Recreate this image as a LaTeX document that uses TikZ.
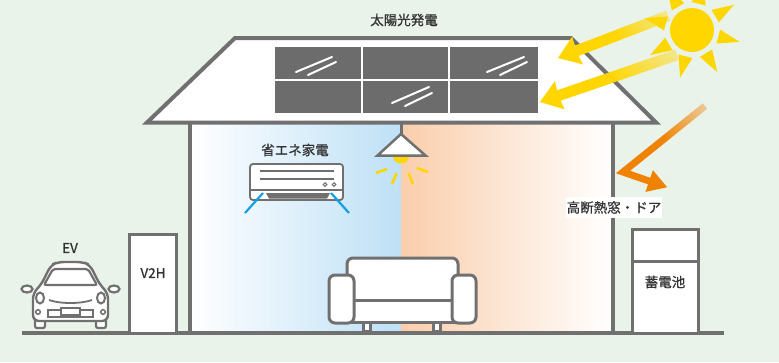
\documentclass[tikz,border=0pt]{standalone}
\usepackage{fontspec}
\setmainfont{Noto Sans CJK JP}
\newfontfamily\labelfont{Noto Sans CJK JP}[FakeBold=0.8]
\usetikzlibrary{fadings}

\definecolor{bg}{RGB}{234,243,234}
\definecolor{wallgray}{RGB}{112,112,112}
\definecolor{panelgray}{RGB}{108,108,108}
\definecolor{sky}{RGB}{190,224,246}
\definecolor{peach}{RGB}{250,206,172}
\definecolor{sunY}{RGB}{255,214,0}
\definecolor{heat}{RGB}{239,130,0}
\definecolor{cool}{RGB}{20,160,230}
\definecolor{ink}{RGB}{50,50,50}

% opaque on the left half, fading out over the right half
\begin{tikzfadingfrompicture}[name=sunfade]
  \fill[transparent!0] (-200bp,-200bp) rectangle (0bp,200bp);
  \shade[left color=transparent!0, right color=transparent!100] (0bp,-200bp) rectangle (50bp,200bp);
  \fill[transparent!100] (50bp,-200bp) rectangle (200bp,200bp);
\end{tikzfadingfrompicture}

\begin{document}
\begin{tikzpicture}[x=1pt, y=1pt,
  outline/.style={draw=wallgray, line width=3pt, fill=white},
  thin outline/.style={draw=wallgray, line width=2.2pt, fill=white},
  label/.style={text=ink, font=\labelfont\fontsize{13.5}{16}\selectfont, inner sep=1pt},
  ray/.style={sunY, line width=2.6pt},
  panel streak/.style={white, line width=2pt, line cap=round}]

% canvas
\fill[bg] (0,0) rectangle (779,-362);
\useasboundingbox (0,0) rectangle (779,-362);

% room interior: cool side and warm side
\shade[left color=white, right color=sky] (190,-122) rectangle (401,-333);
\shade[left color=peach, right color=white] (401,-122) rectangle (613,-333);

% roof
\draw[wallgray, line width=4pt, fill=white, line join=miter]
  (147,-122.5) -- (235,-38) -- (571,-38) -- (656,-122.5) -- cycle;

% walls
\draw[wallgray, line width=4pt] (190,-123) -- (190,-333);
\draw[wallgray, line width=4pt] (613,-123) -- (613,-333);

% solar panels
\fill[panelgray] (275,-47) rectangle (538,-113);
\draw[white, line width=2pt] (362,-47) -- (362,-113) (449,-47) -- (449,-113) (275,-80) -- (538,-80);
\draw[panel streak] (296,-72) -- (332,-57) (308,-75) -- (336,-62);
\draw[panel streak] (487,-72) -- (524,-57) (500,-75) -- (527,-62);
\draw[panel streak] (392,-103) -- (429,-87) (405,-106) -- (432,-93);

% ceiling lamp
\draw[wallgray, line width=3pt] (401,-124) -- (401,-136);
\fill[sunY] (392.5,-155) arc (180:360:8.5) -- cycle;
\draw[wallgray, line width=2.5pt, fill=white, line join=miter]
  (401,-134) -- (425.5,-155.5) -- (377.5,-155.5) -- cycle;
\draw[ray] (376,-173) -- (387,-169);
\draw[ray] (392,-184) -- (396.5,-173);
\draw[ray] (413,-184) -- (408.5,-173);
\draw[ray] (428,-172) -- (417,-168);

% air conditioner
\draw[wallgray, line width=1.8pt, fill=white, rounded corners=3pt] (250,-164) rectangle (343,-200);
\draw[wallgray, line width=1.5pt] (260,-171) -- (334,-171) (260,-179) -- (334,-179) (251,-190) -- (342,-190);
\draw[wallgray, line width=1pt] (325,-184.5) circle (1.8) (334,-184.5) circle (1.8);
\fill[wallgray] (266,-193) -- (330,-193) -- (327,-198.5) -- (269,-198.5) -- cycle;
\draw[cool, line width=2.2pt] (263,-193) -- (245,-213);
\draw[cool, line width=2.2pt] (331,-193) -- (349,-213);

% sofa
\draw[outline] (363,-318) rectangle (370,-331);
\draw[outline] (433,-318) rectangle (440,-331);
\draw[outline, rounded corners=6pt] (347,-258) rectangle (458,-305);
\draw[outline] (350,-300) rectangle (456,-322);
\draw[outline, rounded corners=6pt] (329,-275) rectangle (354,-323);
\draw[outline, rounded corners=6pt] (452,-275) rectangle (476,-323);

% ground
\draw[wallgray, line width=4.5pt] (22,-333) -- (724,-333);

% electric car
\draw[thin outline, rounded corners=2pt] (35,-314) rectangle (45,-328);
\draw[thin outline, rounded corners=2pt] (96,-314) rectangle (106,-328);
\draw[thin outline] (27,-289) ellipse (5.5 and 3.5);
\draw[thin outline] (114,-289) ellipse (5.5 and 3.5);
\draw[outline, line width=2.4pt, rounded corners=6pt]
  (33,-321) -- (33,-293) -- (41,-285) -- (51,-265) -- (58,-262) -- (83,-262)
  -- (90,-265) -- (100,-285) -- (108,-293) -- (108,-321) -- cycle;
\draw[thin outline, rounded corners=2pt] (44,-285) -- (53,-269) -- (88,-269) -- (97,-285) -- cycle;
\draw[wallgray, line width=2pt] (40,-298) ellipse (4 and 5.5) (101,-298) ellipse (4 and 5.5);
\draw[wallgray, line width=1.8pt] (49,-300) .. controls (60,-304) and (81,-304) .. (92,-300);
\draw[wallgray, line width=1.5pt] (38,-312) circle (2.3) (103,-312) circle (2.3);
\draw[wallgray, line width=1.8pt] (48,-310) rectangle (93,-317);
\draw[wallgray, line width=1.8pt, fill=white] (61,-308) rectangle (80,-315);

% V2H charger
\draw[outline] (129,-234) rectangle (176,-333);

% storage battery
\draw[outline] (632,-229) rectangle (698,-333);
\draw[wallgray, line width=3pt] (632,-261) -- (698,-261);

% sunlight onto the panels
\begin{scope}[shift={(558,-58)}, rotate=201]
  \fill[sunY, path fading=sunfade, fading angle=21]
    (0,0) -- (-21,15) -- (-20,5.5) -- (-118,5.5) -- (-118,-5.5) -- (-20,-5.5) -- (-21,-15) -- cycle;
\end{scope}
\begin{scope}[shift={(540,-102)}, rotate=199]
  \fill[sunY, path fading=sunfade, fading angle=19]
    (0,0) -- (-21,15) -- (-20,5.5) -- (-145,5.5) -- (-145,-5.5) -- (-20,-5.5) -- (-21,-15) -- cycle;
\end{scope}

% heat bounced off the wall
\draw[heat, line width=7pt, line join=miter, path fading=sunfade, fading angle=38]
  (705,-106) -- (623,-172) -- (652,-182);
\begin{scope}[shift={(652,-182)}, rotate=-19]
  \fill[heat] (-3,11.5) -- (16,0) -- (-3,-11.5) -- cycle;
\end{scope}

% sun
\fill[sunY] (692,-30) circle (22);
\begin{scope}[shift={(692,-30)}]
  \foreach \a in {31,76,121,166,211,256,301,346}
    \fill[sunY] (\a+15:28) -- (\a:49) -- (\a-15:28) -- cycle;
\end{scope}

% labels
\node[label] (solar) at (404,-20) {太陽光発電};
\node[label] (eco) at (295,-150) {省エネ家電};
\node[label] (ev) at (70,-248) {EV};
\node[label] (v2h) at (153,-273) {V2H};
\node[label] (battery) at (665,-282) {蓄電池};
\node[label, fill=white, minimum width=96pt, minimum height=21pt] (windows) at (614,-207.5) {高断熱窓・ドア};
\end{tikzpicture}
\end{document}
